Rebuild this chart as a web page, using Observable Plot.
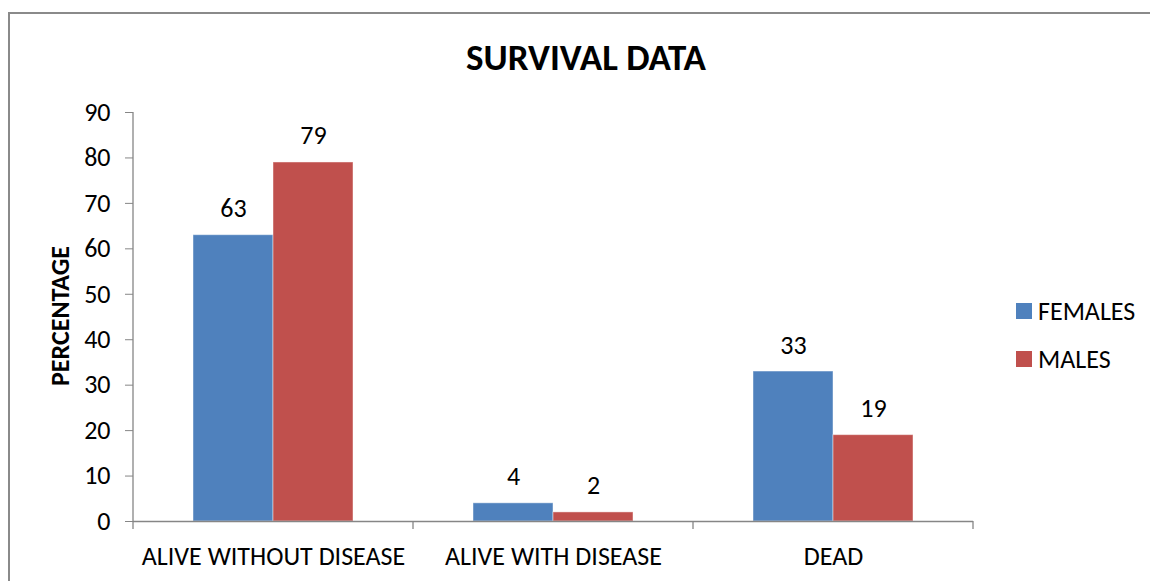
<!DOCTYPE html>
<html><head><meta charset="utf-8">
<script src="https://cdn.jsdelivr.net/npm/d3@7"></script>
<script src="https://cdn.jsdelivr.net/npm/@observablehq/plot@0.6"></script>
<style>
body{margin:0;background:#fff;}
#wrap{position:relative;width:1150px;height:581px;overflow:hidden;font-family:Carlito,Calibri,"Open Sans",sans-serif;color:#000;}
#frame{position:absolute;left:8px;top:12px;width:1200px;height:700px;border-left:2px solid #8a8a8a;border-top:2px solid #8a8a8a;}
#title{position:absolute;top:36px;left:0;width:1172px;text-align:center;font-weight:bold;font-size:37px;line-height:44px;}
#ylabel{position:absolute;left:60px;top:316px;transform:translate(-50%,-50%) rotate(-90deg);font-weight:bold;font-size:26px;white-space:nowrap;}
#legend{position:absolute;left:1016px;top:296px;font-size:26px;}
.li{display:flex;align-items:center;height:30px;margin-bottom:18px;}
.sw{width:16px;height:16px;margin-right:6px;}
#chart{position:absolute;left:0;top:0;}
</style></head>
<body>
<div id="wrap">
<div id="frame"></div>
<div id="chart"></div>
<div id="title"></div>
<div id="ylabel"></div>
<div id="legend"></div>
</div>
<script>
const titleText = "SURVIVAL DATA";
const yLabel = "PERCENTAGE";
const categories = ["ALIVE WITHOUT DISEASE", "ALIVE WITH DISEASE", "DEAD"];
const series = ["FEMALES", "MALES"];
const females = [63, 4, 33];
const males = [79, 2, 19];
const colors = ["#4F81BD", "#C0504D"];
const yTicks = [0, 10, 20, 30, 40, 50, 60, 70, 80, 90];

const data = [];
categories.forEach((c, i) => {
  data.push({cat: c, series: series[0], value: females[i]});
  data.push({cat: c, series: series[1], value: males[i]});
});

const font = "Carlito, Calibri, 'Open Sans', sans-serif";
const axisColor = "#868686";

const plot = Plot.plot({
  width: 1150, height: 581,
  marginLeft: 133, marginRight: 177, marginTop: 112, marginBottom: 60,
  style: {fontFamily: font, fontSize: "26px", color: "#000", background: "transparent"},
  fx: {domain: categories, padding: 0, label: null},
  x: {domain: series, paddingInner: 0, paddingOuter: 0.75, axis: null},
  y: {domain: [0, 90], label: null},
  color: {domain: series, range: colors},
  marks: [
    Plot.barY(data, {fx: "cat", x: "series", y: "value", fill: "series", stroke: "#ffffff", strokeOpacity: 0.45, strokeWidth: 1}),
    Plot.text(data, {fx: "cat", x: "series", y: "value", text: d => String(d.value), lineAnchor: "bottom", dy: -18, fontSize: 26, fill: "#000"}),
    Plot.ruleY([0], {stroke: axisColor, strokeWidth: 1.3}),
    Plot.axisY({ticks: yTicks, tickSize: 8, tickPadding: 15, fontSize: 26, stroke: axisColor, label: null, strokeOpacity: 1}),
    Plot.axisFx({anchor: "bottom", tickSize: 0, tickPadding: 25, fontSize: 26, label: null})
  ]
});

// axis line and category boundary ticks, positioned through the plot's scales
const fx = plot.scale("fx");
const y = plot.scale("y");
const svg = d3.select(plot);
const x0 = fx.apply(categories[0]);
svg.append("line").attr("x1", x0).attr("x2", x0)
  .attr("y1", y.apply(0)).attr("y2", y.apply(90))
  .attr("stroke", axisColor).attr("stroke-width", 1.3);
const bounds = categories.map(c => fx.apply(c)).concat([fx.apply(categories[categories.length - 1]) + fx.bandwidth]);
bounds.forEach(b => {
  svg.append("line").attr("x1", b).attr("x2", b)
    .attr("y1", y.apply(0)).attr("y2", y.apply(0) + 8)
    .attr("stroke", axisColor).attr("stroke-width", 1.3);
});

document.getElementById("chart").appendChild(plot);
document.getElementById("title").textContent = titleText;
document.getElementById("ylabel").textContent = yLabel;
const lg = document.getElementById("legend");
series.forEach((s, i) => {
  const row = document.createElement("div");
  row.className = "li";
  row.innerHTML = `<div class="sw" style="background:${colors[i]}"></div><span>${s}</span>`;
  lg.appendChild(row);
});
</script>
</body></html>
